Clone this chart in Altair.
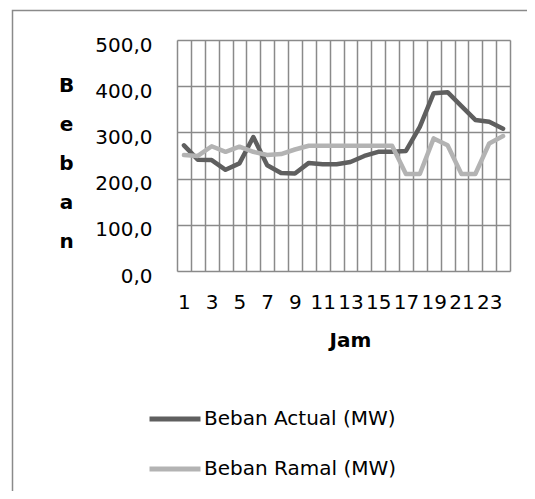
import altair as alt
import pandas as pd

jam = list(range(1, 25))
beban_actual = [272, 241, 240, 219, 233, 290, 229, 212, 211, 234, 231, 231, 236, 249, 258, 258, 260, 312, 385, 387, 357, 327, 323, 308]
beban_ramal = [251, 249, 270, 258, 269, 258, 251, 253, 263, 271, 271, 271, 271, 271, 271, 271, 210, 210, 287, 272, 210, 210, 276, 292]
series_names = ["Beban Actual (MW)", "Beban Ramal (MW)"]
series_colors = ["#5f5f5f", "#b3b3b3"]

rows = []
for name, vals in zip(series_names, [beban_actual, beban_ramal]):
    for j, v in zip(jam, vals):
        rows.append({"Jam": j, "Beban": v, "Seri": name})
df = pd.DataFrame(rows)

FONT = "DejaVu Sans"
FS = 20
GRID = "#8a8a8a"

lines = alt.Chart(df).mark_line(strokeWidth=4.5, strokeJoin="round", strokeCap="round").encode(
    x=alt.X(
        "Jam:O",
        bandPosition=0.5,
        scale=alt.Scale(type="band", paddingInner=0, paddingOuter=0),
        sort=jam,
        axis=alt.Axis(
            title="Jam",
            tickBand="extent",
            labelAngle=0,
            labelExpr="datum.value % 2 == 1 ? datum.label : ''",
            labelFont=FONT,
            labelFontSize=FS,
            labelColor="#000000",
            labelPadding=21,
            labelOverlap=False,
            ticks=False,
            domain=False,
            grid=True,
            gridColor=GRID,
            gridWidth=1.5,
            titleFont=FONT,
            titleFontSize=FS,
            titleFontWeight="bold",
            titleColor="#000000",
            titleX=173,
            titleY=69,
            titleBaseline="middle",
            titleAlign="center",
        ),
    ),
    y=alt.Y(
        "Beban:Q",
        scale=alt.Scale(domain=[0, 500], nice=False, zero=True),
        axis=alt.Axis(
            title=["B", "e", "b", "a", "n"],
            titleAngle=0,
            titleX=-111,
            titleY=35,
            titleAlign="center",
            titleBaseline="top",
            titleLineHeight=39,
            titleFont=FONT,
            titleFontSize=FS,
            titleFontWeight="bold",
            titleColor="#000000",
            values=[0, 100, 200, 300, 400, 500],
            labelExpr="replace(format(datum.value, '.1f'), '.', ',')",
            labelFont=FONT,
            labelFontSize=FS,
            labelColor="#000000",
            labelPadding=25,
            labelOffset=5,
            ticks=False,
            domain=False,
            grid=True,
            gridColor=GRID,
            gridWidth=1.5,
        ),
    ),
    color=alt.Color(
        "Seri:N",
        scale=alt.Scale(domain=series_names, range=series_colors),
        legend=alt.Legend(
            title=None,
            orient="none",
            legendX=-30,
            legendY=351,
            direction="vertical",
            symbolType="stroke",
            symbolSize=2600,
            symbolStrokeWidth=5,
            labelFont=FONT,
            labelFontSize=FS,
            labelColor="#000000",
            labelOffset=1,
            labelLimit=0,
            rowPadding=12,
            padding=0,
        ),
    ),
)

border = alt.Chart(pd.DataFrame({"a": [0]})).mark_rect(
    fill=None, stroke=GRID, strokeWidth=1.5, clip=False
).encode(
    x=alt.value(-164.5),
    x2=alt.value(380),
    y=alt.value(-29.5),
    y2=alt.value(480),
)

chart = alt.layer(border, lines).properties(
    width=333,
    height=231,
    autosize=alt.AutoSizeParams(type="none"),
    padding={"left": 169, "top": 32, "right": 17, "bottom": 220},
).configure_view(stroke=GRID, strokeWidth=1.5).configure(background="white")

chart.save("out.html", embed_options={"renderer": "svg", "actions": False})
